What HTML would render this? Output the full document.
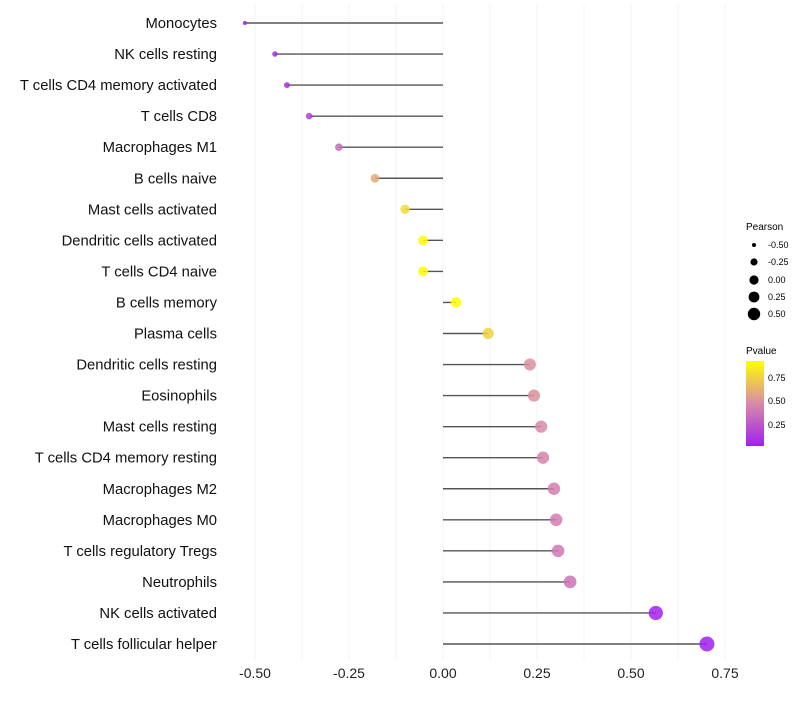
<!DOCTYPE html>
<html><head><meta charset="utf-8"><style>
body{margin:0;background:#fff;font-family:"Liberation Sans",sans-serif}
</style></head><body>
<svg id="c" width="800" height="700" xmlns="http://www.w3.org/2000/svg">
<defs><linearGradient id="pg" x1="0" y1="1" x2="0" y2="0">
<stop offset="0" stop-color="#a020f0"/><stop offset="0.5" stop-color="#d98aa8"/><stop offset="1" stop-color="#ffff00"/>
</linearGradient></defs>
<g id="grid"></g><g id="marks"></g><g id="labels"></g>
<g font-size="9">
<text x="746" y="230" font-size="10">Pearson</text>
<circle cx="754" cy="245" r="2" fill="#000"/><text x="768" y="248">-0.50</text>
<circle cx="754" cy="262" r="3.6" fill="#000"/><text x="768" y="265">-0.25</text>
<circle cx="754" cy="280" r="4.6" fill="#000"/><text x="768" y="283">0.00</text>
<circle cx="754" cy="297" r="5.4" fill="#000"/><text x="768" y="300">0.25</text>
<circle cx="754" cy="314" r="6.2" fill="#000"/><text x="768" y="317">0.50</text>
</g>
<g font-size="9">
<text x="746" y="354" font-size="10">Pvalue</text>
<rect x="746" y="361" width="18" height="85" fill="url(#pg)"/>
<text x="768" y="381">0.75</text><text x="768" y="404">0.50</text><text x="768" y="428">0.25</text>
</g>
</svg>
<script>
const categories=["Monocytes","NK cells resting","T cells CD4 memory activated","T cells CD8","Macrophages M1","B cells naive","Mast cells activated","Dendritic cells activated","T cells CD4 naive","B cells memory","Plasma cells","Dendritic cells resting","Eosinophils","Mast cells resting","T cells CD4 memory resting","Macrophages M2","Macrophages M0","T cells regulatory  Tregs","Neutrophils","NK cells activated","T cells follicular helper"];
const pearson=[-0.527,-0.447,-0.415,-0.356,-0.277,-0.181,-0.101,-0.053,-0.053,0.035,0.120,0.231,0.242,0.261,0.266,0.295,0.301,0.306,0.338,0.566,0.702];
const pvalues=[0.03,0.08,0.1,0.18,0.35,0.6,0.78,0.9,0.9,0.92,0.75,0.5,0.5,0.47,0.45,0.42,0.42,0.4,0.38,0.04,0.03];
const ticks=[-0.5,-0.25,0,0.25,0.5,0.75];
const tickLabels=["-0.50","-0.25","0.00","0.25","0.50","0.75"];
const NS="http://www.w3.org/2000/svg";
const x=v=>443+v*376;
const y=i=>23+i*31.05;
const rad=v=>Math.sqrt(Math.max(1,26.5+42.5*v));
function hex(h){return [parseInt(h.slice(1,3),16),parseInt(h.slice(3,5),16),parseInt(h.slice(5,7),16)];}
const stops=[[0.03,hex("#a020f0")],[0.475,hex("#d98aa8")],[0.92,hex("#ffff00")]];
function col(p){p=Math.max(0.03,Math.min(0.92,p));let a=stops[0],b=stops[1];if(p>stops[1][0]){a=stops[1];b=stops[2];}
const t=(p-a[0])/(b[0]-a[0]);const c=a[1].map((v,k)=>Math.round(v+(b[1][k]-v)*t));return `rgb(${c.join(",")})`;}
function mk(t,at,parent){const e=document.createElementNS(NS,t);for(const k in at)e.setAttribute(k,at[k]);parent.appendChild(e);return e;}
const G=document.getElementById("grid"),M=document.getElementById("marks"),L=document.getElementById("labels");
for(let v=-0.5;v<=0.76;v+=0.125){const l=mk("line",{x1:x(v),x2:x(v),y1:5,y2:660,stroke:"#f3f3f3","stroke-width":1},G);

}
ticks.forEach((t,i)=>{const e=mk("text",{x:x(t),y:678,"text-anchor":"middle","font-size":14,fill:"#222"},L);e.textContent=tickLabels[i];

});
categories.forEach((c,i)=>{
const e=mk("text",{x:217,y:y(i)+5,"text-anchor":"end","font-size":14.8,fill:"#111"},L);e.textContent=c;


const s=mk("line",{x1:x(0),x2:x(pearson[i]),y1:y(i),y2:y(i),stroke:"#555","stroke-width":1.4},M);


const p=mk("circle",{cx:x(pearson[i]),cy:y(i),r:rad(pearson[i]),fill:col(pvalues[i]),"fill-opacity":0.85},M);


});
</script>
</body></html>
